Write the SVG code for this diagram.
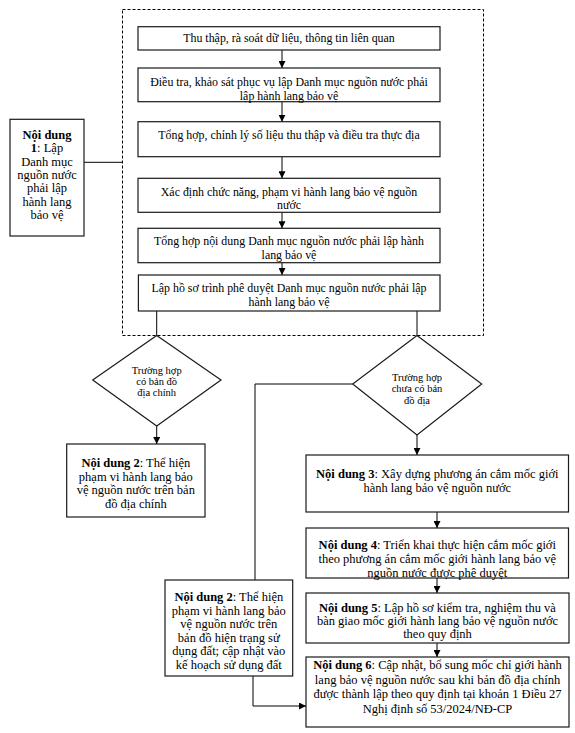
<svg xmlns="http://www.w3.org/2000/svg" width="575" height="733" viewBox="0 0 575 733">
<defs>
<marker id="ah" markerUnits="userSpaceOnUse" markerWidth="7" markerHeight="7" refX="7" refY="3.5" orient="auto"><path d="M0,0 L7,3.5 L0,7 z" fill="#000"/></marker>
</defs>
<style>
.box{fill:#fff;stroke:#1a1a1a;stroke-width:1.2}
text{font-family:'Liberation Serif','DejaVu Serif',serif;font-size:11.9px;fill:#000;text-anchor:middle}
.s{font-size:12.5px}
.d{font-size:10.5px}
.b{font-weight:bold}
.ln{fill:none;stroke:#000;stroke-width:1}
.ar{fill:none;stroke:#000;stroke-width:1;marker-end:url(#ah)}
.frame{fill:none;stroke:#000;stroke-width:1;stroke-dasharray:3 2}
</style>
<rect width="575" height="733" fill="#fff"/>
<g id="connectors">
<rect class="frame" x="122.5" y="9.5" width="361" height="326"/>
<path class="ar" d="M282,50 V68"/>
<path class="ar" d="M282,101.7 V121.7"/>
<path class="ar" d="M282,156.7 V178.3"/>
<path class="ar" d="M282,212.3 V228.3"/>
<path class="ar" d="M282,262.7 V275"/>
<path class="ln" d="M84,162.3 H122.5"/>
<path class="ln" d="M156.7,311 V335.5"/>
<path class="ln" d="M417,311 V335.5"/>
<path class="ar" d="M156.7,426 V444"/>
<path class="ar" d="M417,435 V455"/>
<path class="ln" d="M352.7,384 H255 V580"/>
<path class="ar" d="M253,676 V706 H306"/>
<path class="ar" d="M437,512 V528"/>
<path class="ar" d="M437,578 V593"/>
<path class="ar" d="M437,643 V657"/>
</g>
<g id="step1">
<rect class="box" x="138" y="26.7" width="302" height="23.3"/>
<text x="289" y="41.8">Thu thập, rà soát dữ liệu, thông tin liên quan</text>
</g>
<g id="step2">
<rect class="box" x="138" y="68" width="302" height="33.7"/>
<text x="289" y="86">Điều tra, khảo sát phục vụ lập Danh mục nguồn nước phải</text>
<text x="289" y="100">lập hành lang bảo vệ</text>
</g>
<g id="step3">
<rect class="box" x="138" y="121.7" width="302" height="35"/>
<text x="289" y="138.5">Tổng hợp, chỉnh lý số liệu thu thập và điều tra thực địa</text>
</g>
<g id="step4">
<rect class="box" x="138" y="178.3" width="302" height="34"/>
<text x="289" y="195.5">Xác định chức năng, phạm vi hành lang bảo vệ nguồn</text>
<text x="289" y="208.5">nước</text>
</g>
<g id="step5">
<rect class="box" x="138" y="228.3" width="302" height="34.4"/>
<text x="289" y="244.5">Tổng hợp nội dung Danh mục nguồn nước phải lập hành</text>
<text x="289" y="258.5">lang bảo vệ</text>
</g>
<g id="step6">
<rect class="box" x="138.4" y="275" width="301.6" height="36"/>
<text x="289" y="291.5">Lập hồ sơ trình phê duyệt Danh mục nguồn nước phải lập</text>
<text x="289" y="305.5">hành lang bảo vệ</text>
</g>
<g id="nd1">
<rect class="box" x="10" y="119.3" width="74" height="116.7"/>
<text class="s" x="47" y="139"><tspan class="b">Nội dung</tspan></text>
<text class="s" x="47" y="152.3"><tspan class="b">1</tspan>: Lập</text>
<text class="s" x="47" y="165.6">Danh mục</text>
<text class="s" x="47" y="179">nguồn nước</text>
<text class="s" x="47" y="192.3">phải lập</text>
<text class="s" x="47" y="205.6">hành lang</text>
<text class="s" x="47" y="219">bảo vệ</text>
</g>
<g id="dec1">
<polygon class="box" points="156.7,335.5 221,380 156.7,426 92.7,380"/>
<text class="d" x="156.7" y="373.5">Trường hợp</text>
<text class="d" x="156.7" y="384.5">có bản đồ</text>
<text class="d" x="156.7" y="395.5">địa chính</text>
</g>
<g id="dec2">
<polygon class="box" points="417,335.5 481.7,384 417,435 352.7,384"/>
<text class="d" x="417" y="380.5">Trường hợp</text>
<text class="d" x="417" y="392">chưa có bản</text>
<text class="d" x="417" y="403.5">đồ địa</text>
</g>
<g id="nd2a">
<rect class="box" x="66.7" y="444" width="138.3" height="73"/>
<text class="s" x="135.8" y="467"><tspan class="b">Nội dung 2</tspan>: Thể hiện</text>
<text class="s" x="135.8" y="480.5">phạm vi hành lang bảo</text>
<text class="s" x="135.8" y="494">vệ nguồn nước trên bản</text>
<text class="s" x="135.8" y="507.5">đồ địa chính</text>
</g>
<g id="nd2b">
<rect class="box" x="165" y="580" width="127.7" height="96"/>
<text class="s" x="228.8" y="601">
<tspan class="b">Nội dung 2</tspan>: Thể hiện</text>
<text class="s" x="228.8" y="614.5">phạm vi hành lang bảo</text>
<text class="s" x="228.8" y="628">vệ nguồn nước trên</text>
<text class="s" x="228.8" y="641.5">bản đồ hiện trạng sử</text>
<text class="s" x="228.8" y="655">dụng đất; cập nhật vào</text>
<text class="s" x="228.8" y="668.5">kế hoạch sử dụng đất</text>
</g>
<g id="nd3">
<rect class="box" x="306" y="455" width="262.5" height="57"/>
<text class="s" x="437.3" y="478"><tspan class="b">Nội dung 3</tspan>: Xây dựng phương án cắm mốc giới</text>
<text class="s" x="437.3" y="492">hành lang bảo vệ nguồn nước</text>
</g>
<g id="nd4">
<rect class="box" x="306" y="528" width="262.5" height="50"/>
<text class="s" x="437.3" y="548.5"><tspan class="b">Nội dung 4</tspan>: Triển khai thực hiện cắm mốc giới</text>
<text class="s" x="437.3" y="562.5">theo phương án cắm mốc giới hành lang bảo vệ</text>
<text class="s" x="437.3" y="576.5">nguồn nước được phê duyệt</text>
</g>
<g id="nd5">
<rect class="box" x="306" y="593" width="263" height="50"/>
<text class="s" x="437.5" y="611.5"><tspan class="b">Nội dung 5</tspan>: Lập hồ sơ kiểm tra, nghiệm thu và</text>
<text class="s" x="437.5" y="624.5">bàn giao mốc giới hành lang bảo vệ nguồn nước</text>
<text class="s" x="437.5" y="637.5">theo quy định</text>
</g>
<g id="nd6">
<rect class="box" x="306" y="657" width="263" height="70"/>
<text class="s" x="437.5" y="669"><tspan class="b">Nội dung 6</tspan>: Cập nhật, bổ sung mốc chỉ giới hành</text>
<text class="s" x="437.5" y="683.5">lang bảo vệ nguồn nước sau khi bản đồ địa chính</text>
<text class="s" x="437.5" y="698">được thành lập theo quy định tại khoản 1 Điều 27</text>
<text class="s" x="437.5" y="712.5">Nghị định số 53/2024/NĐ-CP</text>
</g>
</svg>
